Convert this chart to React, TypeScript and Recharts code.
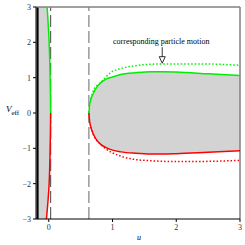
import {
  ComposedChart, Area, Line, XAxis, YAxis,
  ReferenceLine, ReferenceDot,
} from "recharts";

// ---- data ----

// left branch, u as a function of V
const leftGreenV = [3, 2, 1, 0.5, 0];
const leftGreenU = [-0.025, 0.006, 0.022, 0.027, 0.03];
const leftRedV = [0, -0.5, -1, -2, -3];
const leftRedU = [0.03, 0.027, 0.022, 0.006, -0.036];

// grey strip left of the curves
const leftFillU = [-0.2, -0.036, -0.025, 0.006, 0.022, 0.027, 0.03];
const leftFillLo = [-3, -3, -2.7, -2, -1, -0.5, 0];
const leftFillHi = [3, 3, 3, 2, 1, 0.5, 0];

// right lobe (solid)
const rightU = [0.63, 0.64, 0.66, 0.7, 0.75, 0.81, 0.9, 1.0, 1.13, 1.36, 1.6, 1.8, 2.0, 2.5, 3.0];
const rightUpper = [0, 0.22, 0.38, 0.56, 0.72, 0.85, 0.96, 1.02, 1.09, 1.14, 1.17, 1.17, 1.16, 1.11, 1.06];
const rightLower = [0, -0.22, -0.4, -0.6, -0.76, -0.88, -0.98, -1.05, -1.1, -1.14, -1.16, -1.16, -1.15, -1.11, -1.07];

// right lobe (dotted)
const dotU = [0.66, 0.71, 0.81, 0.97, 1.13, 1.33, 1.6, 1.86, 2.38, 3.0];
const dotUpper = [0.4, 0.67, 0.85, 1.14, 1.26, 1.33, 1.38, 1.39, 1.39, 1.35];
const dotLower = [-0.4, -0.65, -0.88, -1.1, -1.22, -1.31, -1.35, -1.37, -1.37, -1.34];

const xTicks = [0, 1, 2, 3];
const yTicks = [-3, -2, -1, 0, 1, 2, 3];

const GREEN = "#00ee00";
const RED = "#ff0000";
const FILL = "#d3d3d3";
const FONT = "'Liberation Serif', 'DejaVu Serif', serif";

const zip = (us: number[], vs: number[]) => us.map((u, i) => ({ u, v: vs[i] }));

const leftGreen = zip(leftGreenU, leftGreenV);
const leftRed = zip(leftRedU, leftRedV);
const leftFill = leftFillU.map((u, i) => ({ u, band: [leftFillLo[i], leftFillHi[i]] }));
const rightFill = rightU.map((u, i) => ({ u, band: [rightLower[i], rightUpper[i]] }));
const rightTop = zip(rightU, rightUpper);
const rightBottom = zip(rightU, rightLower);
const dotTop = zip(dotU, dotUpper);
const dotBottom = zip(dotU, dotLower);

const fmt = (v: number) => (v < 0 ? `\u2212${Math.abs(v)}` : `${v}`);

function ArrowNote(props: any) {
  const { cx, cy } = props;
  if (cx == null || cy == null) return null;
  return (
    <g>
      <text x={cx - 1} y={cy - 19} textAnchor="middle" fontFamily={FONT} fontSize={8} fill="#000">
        corresponding particle motion
      </text>
      <line x1={cx} y1={cy - 16} x2={cx} y2={cy - 6} stroke="#000" strokeWidth={0.8} />
      <path d={`M${cx - 3},${cy - 6.5} L${cx + 3},${cy - 6.5} L${cx},${cy} Z`} fill="#fff" stroke="#000" strokeWidth={0.8} />
    </g>
  );
}

export default function App() {
  return (
    <div style={{ position: "fixed", left: 0, top: 0, background: "#fff" }}>
      <ComposedChart width={245} height={245} margin={{ top: 7, right: 5, bottom: 6, left: 6 }}>
        <XAxis
          dataKey="u"
          type="number"
          domain={[-0.2, 3]}
          ticks={xTicks}
          allowDataOverflow
          height={20}
          stroke="#000"
          tickSize={3}
          tick={{ fontSize: 8, fontFamily: FONT, fill: "#333" }}
        />
        <YAxis
          dataKey="v"
          type="number"
          domain={[-3, 3]}
          ticks={yTicks}
          allowDataOverflow
          width={30}
          stroke="#000"
          tickSize={3}
          tickFormatter={fmt}
          tick={{ fontSize: 8, fontFamily: FONT, fill: "#333" }}
        />
        <Area data={leftFill} dataKey="band" type="linear" fill={FILL} fillOpacity={1} stroke="none" isAnimationActive={false} />
        <Area data={rightFill} dataKey="band" type="monotone" fill={FILL} fillOpacity={1} stroke="none" isAnimationActive={false} />
        <ReferenceLine x={-0.175} stroke="#000" strokeWidth={2} />
        <ReferenceLine x={0.03} stroke="#444" strokeDasharray="12 4" />
        <ReferenceLine x={0.63} stroke="#666" strokeDasharray="12 4" />
        <ReferenceLine y={3} stroke="#808080" strokeWidth={1.5} />
        <ReferenceLine x={3} stroke="#808080" strokeWidth={1.5} />
        <Line data={leftGreen} dataKey="v" type="natural" stroke={GREEN} strokeWidth={1.5} dot={false} isAnimationActive={false} />
        <Line data={leftRed} dataKey="v" type="natural" stroke={RED} strokeWidth={1.5} dot={false} isAnimationActive={false} />
        <Line data={rightTop} dataKey="v" type="monotone" stroke={GREEN} strokeWidth={1.5} dot={false} isAnimationActive={false} />
        <Line data={rightBottom} dataKey="v" type="monotone" stroke={RED} strokeWidth={1.5} dot={false} isAnimationActive={false} />
        <Line data={dotTop} dataKey="v" type="monotone" stroke={GREEN} strokeWidth={1.5} strokeDasharray="1.5 2" dot={false} isAnimationActive={false} />
        <Line data={dotBottom} dataKey="v" type="monotone" stroke={RED} strokeWidth={1.5} strokeDasharray="1.5 2" dot={false} isAnimationActive={false} />
        <ReferenceDot x={1.78} y={1.41} r={0} shape={ArrowNote} />
        <text x={6} y={112} fontFamily={FONT} fontSize={9} fontStyle="italic" fill="#000">
          V<tspan dy={3} fontSize={7} fontStyle="normal">eff</tspan>
        </text>
        <text x={137} y={240} fontFamily={FONT} fontSize={8} fontStyle="italic" fill="#000">u</text>
      </ComposedChart>
    </div>
  );
}
